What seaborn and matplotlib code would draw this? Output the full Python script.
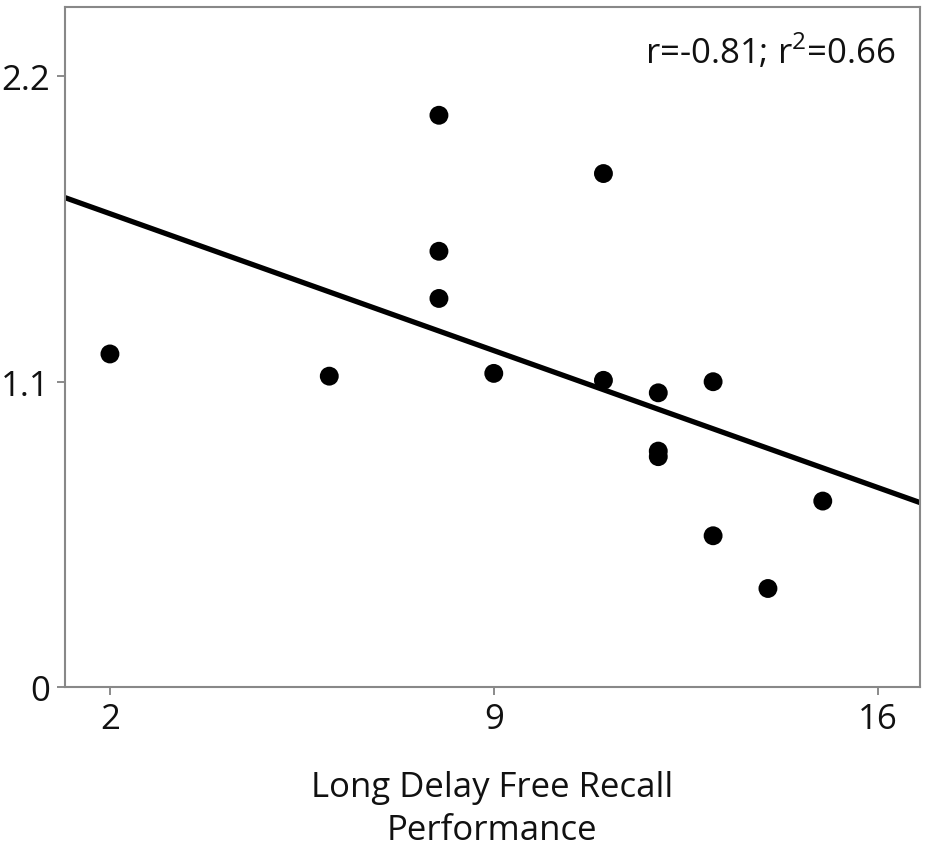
import matplotlib
matplotlib.use("Agg")
import matplotlib.pyplot as plt
import seaborn as sns
import pandas as pd

recall = [2, 6, 8, 8, 8, 9, 11, 11, 12, 12, 12, 13, 13, 14, 15]
values = [1.20, 1.12, 2.06, 1.57, 1.40, 1.13, 1.85, 1.105, 1.06, 0.85, 0.83, 1.10, 0.545, 0.355, 0.67]
x_ticks = [2, 9, 16]
y_ticks = [0, 1.1, 2.2]
y_tick_labels = ["0", "1.1", "2.2"]
annotation = "r=-0.81; r$^2$=0.66"
x_label = "Long Delay Free Recall\nPerformance"

df = pd.DataFrame({"recall": recall, "value": values})

sns.set_style("white")
plt.rcParams['font.family'] = ['Open Sans', 'DejaVu Sans']
plt.rcParams['mathtext.fontset'] = 'custom'
plt.rcParams['mathtext.rm'] = 'Open Sans'

fig = plt.figure(figsize=(9.31, 8.53), dpi=100)
ax = fig.add_axes([0.0698, 0.1934, 0.988 - 0.0698, 0.9906 - 0.1934])
ax.set_xlim(1.18, 16.77)
ax.set_ylim(0, 2.45)

sns.regplot(data=df, x="recall", y="value", ax=ax, ci=None, truncate=False,
            scatter_kws=dict(s=185, color="black", edgecolor="none", alpha=1),
            line_kws=dict(color="black", lw=3.8))

ax.set_xticks(x_ticks)
ax.set_yticks(y_ticks)
ax.set_yticklabels(y_tick_labels)
ax.tick_params(axis="both", labelsize=25, direction="out", length=6, width=1.2,
               color="#777777", labelcolor="#111111", pad=5,
               bottom=True, left=True)
for s in ax.spines.values():
    s.set_color("#888888")
    s.set_linewidth(1.5)

ax.set_xlabel(x_label, fontsize=25, color="#111111", labelpad=24, linespacing=1.35)
ax.set_ylabel("")
ax.text(0.972, 0.935, annotation, transform=ax.transAxes, ha="right", va="center",
        fontsize=25, color="#111111")

fig.savefig("out.png", dpi=100)
